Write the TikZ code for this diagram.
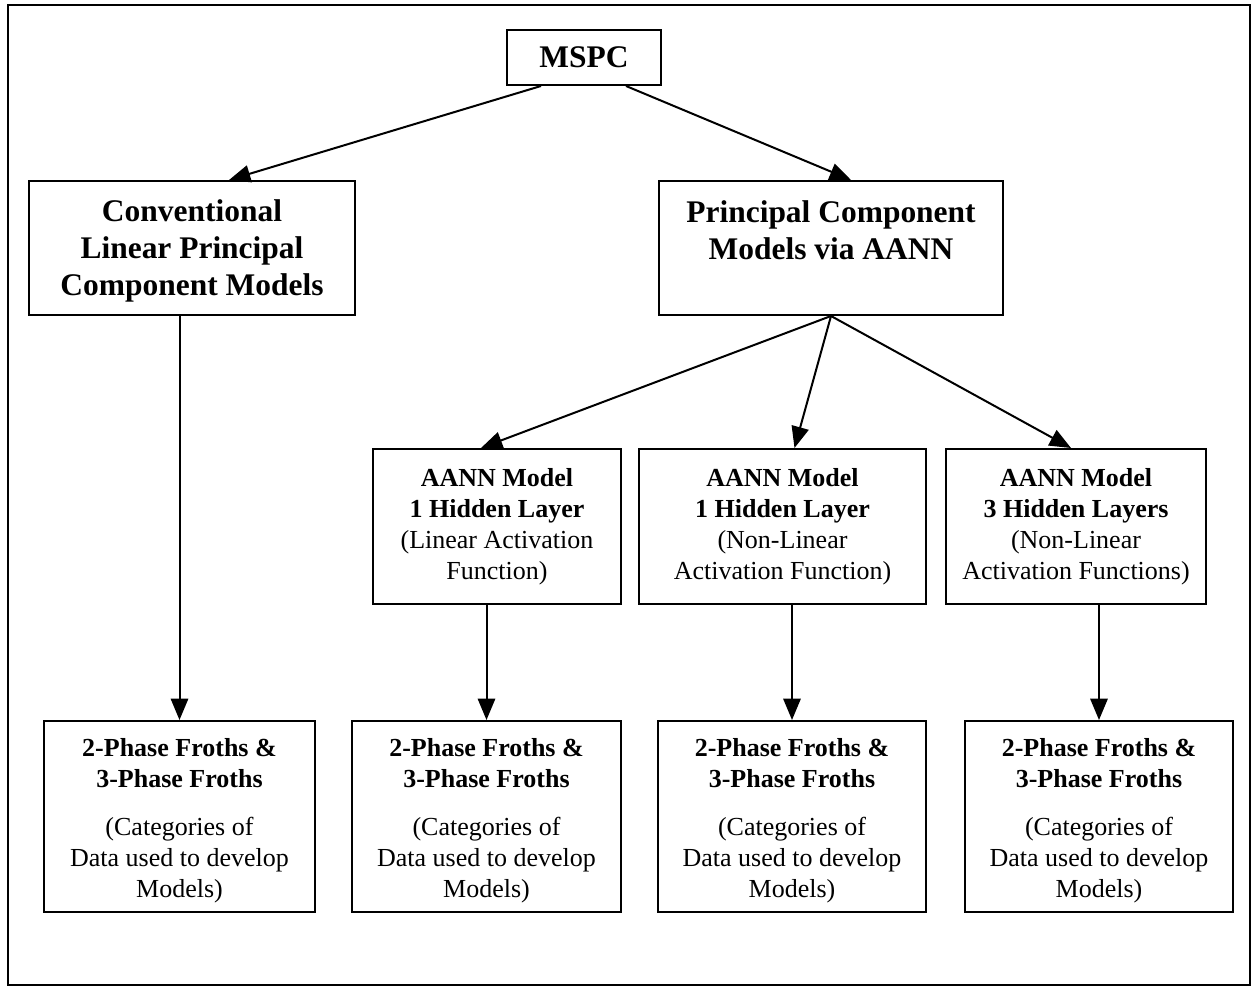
\documentclass[tikz,border=0pt]{standalone}
\usepackage{fontspec}
\setmainfont{Liberation Serif}
\usetikzlibrary{arrows.meta,calc}
\begin{document}
\begin{tikzpicture}[x=0.75pt,y=-0.75pt,
  box/.style={draw,line width=1.5pt,align=center,inner sep=0pt,anchor=north west},
  sz/.style 2 args={minimum width=#1*0.75pt,minimum height=#2*0.75pt},
  big/.style={font=\fontsize{23.6}{27.75}\selectfont\bfseries},
  small/.style={font=\fontsize{19.5}{23.25}\selectfont},
  link/.style={line width=1.5pt,-{Triangle[length=16pt,width=13pt]}}]
\useasboundingbox (0,0) rectangle (1253,987);
% outer frame
\draw[line width=2.2pt] (8,5) rectangle (1250,985);

% top level
\node[box,big,sz={154}{55}] (mspc) at (506,29) {MSPC};
\node[box,big,sz={326}{134}] (conv) at (28,180)
  {\rule{0pt}{20.5pt}Conventional\\Linear Principal\\Component Models};
\node[box,big,sz={344}{134}] (pca) at (658,180)
  {\rule{0pt}{25pt}Principal Component\\Models via AANN\\\strut};

% AANN variants
\node[box,small,sz={248}{155}] (a1) at (372,448)
  {\textbf{AANN Model}\\\textbf{1 Hidden Layer}\\(Linear Activation\\Function)};
\node[box,small,sz={287}{155}] (a2) at (638,448)
  {\textbf{AANN Model}\\\textbf{1 Hidden Layer}\\(Non-Linear\\Activation Function)};
\node[box,small,sz={260}{155}] (a3) at (945,448)
  {\textbf{AANN Model}\\\textbf{3 Hidden Layers}\\(Non-Linear\\Activation Functions)};

% data categories
\foreach \n/\x/\w in {d1/43/271, d2/351/269, d3/657/268, d4/964/268}{
  \node[box,small,sz={\w}{191}] (\n) at (\x,720)
    {\rule{0pt}{19.5pt}\textbf{2-Phase Froths \&}\\\textbf{3-Phase Froths}\\[12.75pt](Categories of\\Data used to develop\\Models)};
}

% connectors
\draw[link] ($(mspc.south)+(-43,0)$) -- ($(conv.north)+(37,0)$);
\draw[link] ($(mspc.south)+(42,0)$) -- ($(pca.north)+(20,0)$);
\draw[link] (pca.south) -- ($(a1.north)+(-16,0)$);
\draw[link] (pca.south) -- ($(a2.north)+(12,0)$);
\draw[link] (pca.south) -- ($(a3.north)+(-5,0)$);
\draw[link] (conv.south -| d1.north) -- (d1.north);
\draw[link] (a1.south -| d2.north) -- (d2.north);
\draw[link] (a2.south -| d3.north) -- (d3.north);
\draw[link] (a3.south -| d4.north) -- (d4.north);
\end{tikzpicture}
\end{document}
